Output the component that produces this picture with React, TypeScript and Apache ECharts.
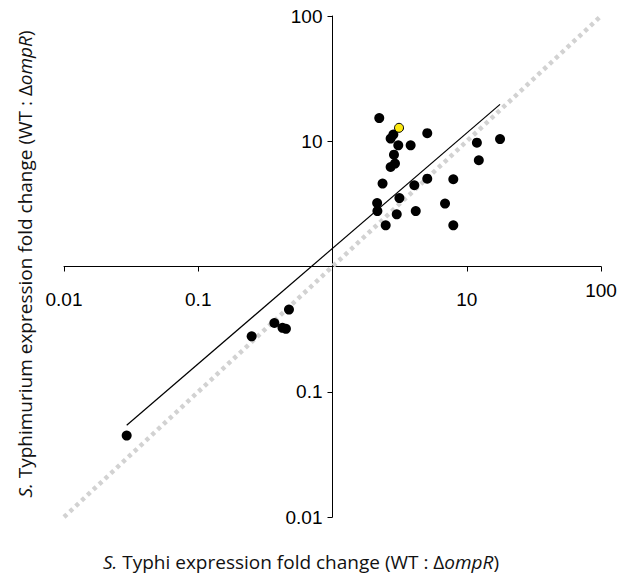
import React, { useEffect, useRef } from "react";
import * as echarts from "echarts";

// Tick labels for the decade ticks (value 1 is left blank where the axes cross)
const tickValues = [0.01, 0.1, 1, 10, 100];
const tickLabels = ["0.01", "0.1", "", "10", "100"];

// Black points: S. Typhi fold change (x) vs S. Typhimurium fold change (y)
const blackX = [2.23, 2.84, 2.71, 3.09, 3.82, 5.08, 2.87, 2.92, 2.71, 2.36, 4.07, 5.08, 7.94, 2.15, 3.15, 6.89, 2.16, 3.01, 4.17, 2.49, 7.94, 11.9, 17.7, 12.3, 0.474, 0.369, 0.424, 0.45, 0.25, 0.0293];
const blackY = [15.3, 11.3, 10.5, 9.28, 9.28, 11.6, 7.82, 6.63, 6.23, 4.59, 4.45, 5.03, 4.97, 3.21, 3.52, 3.18, 2.77, 2.61, 2.77, 2.13, 2.13, 9.75, 10.4, 7.05, 0.453, 0.354, 0.324, 0.318, 0.277, 0.0447];

// Highlighted (yellow) point
const yellowX = [3.13];
const yellowY = [12.8];

// Fitted line end points
const fitX = [0.0293, 17.7];
const fitY = [0.054, 19.7];

// Identity line end points
const identityX = [0.01, 100];
const identityY = [0.01, 100];

const xTitle = "{i|S.} Typhi expression fold change (WT : Δ{i|ompR})";
const yTitle = "{i|S.} Typhimurium expression fold change (WT : Δ{i|ompR})";

const zip = (a: number[], b: number[]) => a.map((v, i) => [v, b[i]]);

const labelFor = (v: number) => {
  const idx = Math.round(Math.log10(v)) + 2;
  return tickValues[idx] !== undefined ? tickLabels[idx] : "";
};

export default function App() {
  const ref = useRef<HTMLDivElement>(null);
  useEffect(() => {
    if (!ref.current) return;
    const chart = echarts.init(ref.current, undefined, { renderer: "svg" });
    const labelFont = "'Liberation Sans', Arial, sans-serif";
    const titleFont = "'Open Sans', sans-serif";
    const titleSize = 19;
    const titleRich = {
      i: { fontStyle: "italic", fontSize: titleSize, fontFamily: titleFont, fill: "#111" },
    };
    chart.setOption({
      animation: false,
      grid: { left: 64, top: 16, width: 537, height: 501, containLabel: false, outerBoundsMode: "none" },
      xAxis: {
        type: "log",
        logBase: 10,
        min: 0.01,
        max: 100,
        position: "bottom",
        offset: -250.5,
        axisLine: { onZero: false, lineStyle: { color: "#000", width: 1 } },
        axisTick: { show: true, length: 5, lineStyle: { color: "#000", width: 1 } },
        minorTick: { show: false },
        splitLine: { show: false },
        axisLabel: {
          margin: 33,
          verticalAlign: "middle",
          color: "#000",
          fontSize: 19,
          fontFamily: labelFont,
          formatter: (v: number) => {
            const s = labelFor(v);
            return s === "100" ? "{up|100}" : s;
          },
          rich: {
            up: { padding: [0, 0, 18, 0], fontSize: 19, fontFamily: labelFont, color: "#000" },
          },
        },
      },
      yAxis: {
        type: "log",
        logBase: 10,
        min: 0.01,
        max: 100,
        position: "left",
        offset: -268.5,
        axisLine: { onZero: false, lineStyle: { color: "#000", width: 1 } },
        axisTick: { show: true, length: 5, lineStyle: { color: "#000", width: 1 } },
        minorTick: { show: false },
        splitLine: { show: false },
        axisLabel: {
          margin: 10,
          color: "#000",
          fontSize: 19,
          fontFamily: labelFont,
          formatter: (v: number) => labelFor(v),
        },
      },
      series: [
        {
          type: "line",
          data: zip(identityX, identityY),
          symbol: "none",
          clip: false,
          silent: true,
          lineStyle: { color: "#d2d2d2", width: 4.5, type: [4, 4] },
          z: 1,
        },
        {
          type: "line",
          data: zip(fitX, fitY),
          symbol: "none",
          silent: true,
          lineStyle: { color: "#000", width: 1.2 },
          z: 2,
        },
        {
          type: "scatter",
          data: zip(blackX, blackY),
          symbol: "circle",
          symbolSize: 10,
          itemStyle: { color: "#000", opacity: 1 },
          z: 3,
        },
        {
          type: "scatter",
          data: zip(yellowX, yellowY),
          symbol: "circle",
          symbolSize: 9,
          itemStyle: { color: "#fde910", borderColor: "#000", borderWidth: 1, opacity: 1 },
          z: 4,
        },
      ],
      graphic: [
        {
          type: "text",
          x: 301,
          y: 562,
          style: {
            text: xTitle,
            rich: titleRich,
            fontSize: titleSize,
            fontFamily: titleFont,
            fill: "#111",
            align: "center",
            verticalAlign: "middle",
          },
        },
        {
          type: "text",
          x: 25,
          y: 264,
          rotation: Math.PI / 2,
          style: {
            text: yTitle,
            rich: titleRich,
            fontSize: titleSize,
            fontFamily: titleFont,
            fill: "#111",
            align: "center",
            verticalAlign: "middle",
          },
        },
      ],
    });
    return () => chart.dispose();
  }, []);
  return (
    <div
      ref={ref}
      style={{ position: "absolute", left: 0, top: 0, width: 633, height: 574 }}
    />
  );
}
